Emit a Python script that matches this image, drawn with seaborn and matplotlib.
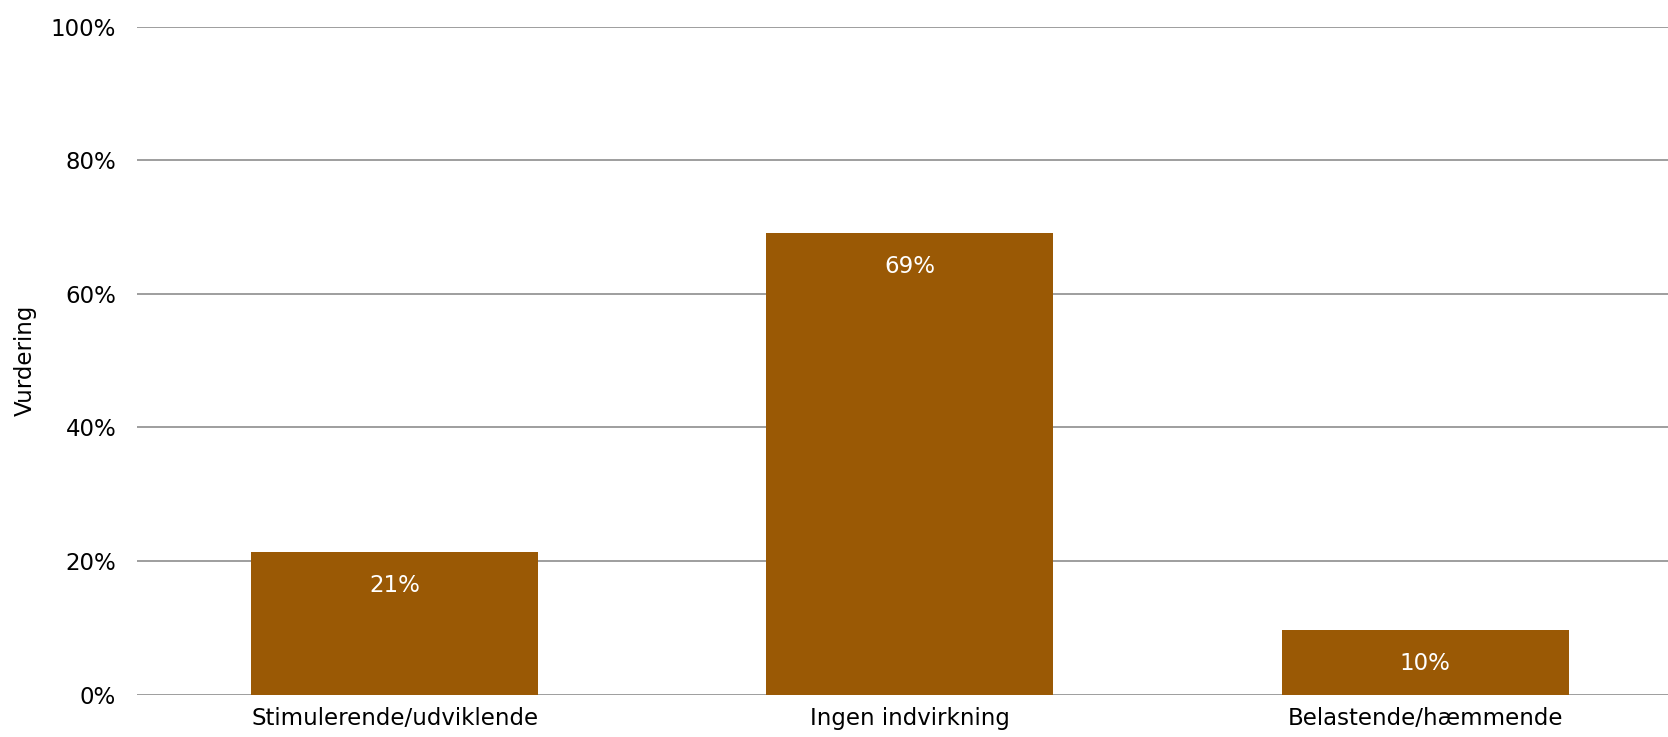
import matplotlib
matplotlib.use("Agg")
import matplotlib.pyplot as plt
import seaborn as sns
import pandas as pd
from matplotlib.ticker import PercentFormatter

# data
categories = ["Stimulerende/udviklende", "Ingen indvirkning", "Belastende/hæmmende"]
values = [21.3, 69.1, 9.7]
labels = ["21%", "69%", "10%"]
y_ticks = [0, 20, 40, 60, 80, 100]

df = pd.DataFrame({"kategori": categories, "andel": values})

sns.set_theme(style="white")
plt.rcParams['font.family'] = ['DejaVu Sans']

fig = plt.figure(figsize=(16.68, 7.37), dpi=100)
ax = fig.add_axes([137 / 1668, 1 - 694.7 / 737, 1 - 137 / 1668, (694.7 - 26.6) / 737])

sns.barplot(data=df, x="kategori", y="andel", color="#9A5905", width=0.557,
            saturation=1, linewidth=0, ax=ax, zorder=3)

ax.set_ylim(0, 100)
ax.set_xlim(-0.5, 2.471)
ax.set_yticks(y_ticks)
ax.yaxis.set_major_formatter(PercentFormatter(decimals=0))
ax.grid(axis='y', color='#9E9E9E', linewidth=1.4, zorder=0)
for s in ax.spines.values():
    s.set_visible(False)
ax.tick_params(axis='y', length=0, pad=15, labelsize=16.5, labelcolor='black')
ax.tick_params(axis='x', length=0, pad=9, labelsize=16.5, labelcolor='black')
ax.set_xlabel("")
ax.set_ylabel("Vurdering", fontsize=16.5, color='black', labelpad=10)

for i, (v, lab) in enumerate(zip(values, labels)):
    ax.annotate(lab, (i, v), xytext=(0, -24), textcoords='offset points',
                ha='center', va='center', color='white', fontsize=16.5, zorder=4)

fig.savefig("out.png", dpi=100)
